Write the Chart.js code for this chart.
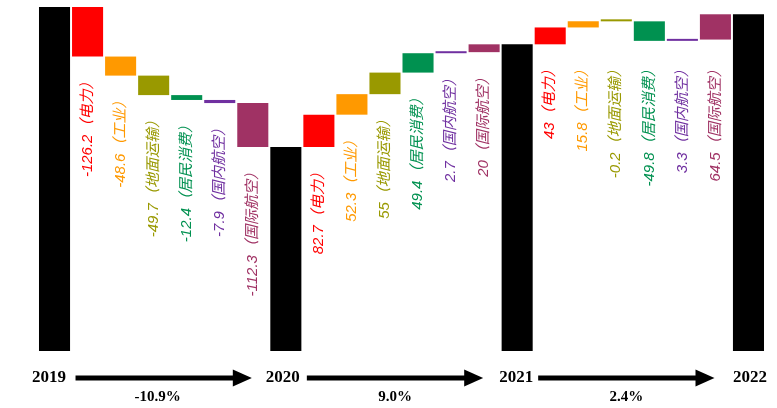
<!DOCTYPE html>
<html>
<head>
<meta charset="utf-8">
<script src="https://cdn.jsdelivr.net/npm/chart.js@4.4.0/dist/chart.umd.min.js"></script>
<style>
html, body { margin: 0; padding: 0; background: #fff; }
</style>
</head>
<body>
<canvas id="chart" width="777" height="408"></canvas>
<script>
// ---- data ----
const years = ['2019', '2020', '2021', '2022'];
const sectors = ['电力', '工业', '地面运输', '居民消费', '国内航空', '国际航空'];
const total2019 = 3269;
const changes1920 = [-126.2, -48.6, -49.7, -12.4, -7.9, -112.3];
const changes2021 = [82.7, 52.3, 55, 49.4, 2.7, 20];
const changes2122 = [43, 15.8, -0.2, -49.8, 3.3, 64.5];
const growthLabels = ['-10.9%', '9.0%', '2.4%'];
const sectorColors = ['#ff0000', '#ff9900', '#999900', '#009150', '#7030a0', '#a03264'];

// ---- build waterfall ----
const groups = [changes1920, changes2021, changes2122];
const labels = [];
const bars = [];
const colors = [];
const info = []; // per bar: null for totals, {group, text, color} for changes
const totalIdx = [];
let level = total2019;
const base = 2392;

years.forEach((y, k) => {
  labels.push(y);
  bars.push([base, level]);
  colors.push('#000000');
  info.push(null);
  totalIdx.push(bars.length - 1);
  if (k < groups.length) {
    groups[k].forEach((d, i) => {
      labels.push(y + '-' + sectors[i]);
      bars.push([level, level + d]);
      colors.push(sectorColors[i]);
      info.push({ group: k, text: String(d) + '（' + sectors[i] + '）', color: sectorColors[i] });
      level += d;
    });
  }
});

// ---- labels + arrows ----
const waterfallText = {
  id: 'waterfallText',
  afterDatasetsDraw(chart) {
    const ctx = chart.ctx;
    const meta = chart.getDatasetMeta(0);
    const gap = 18;

    // lowest bar bottom of each group (last group labels are lined up)
    const groupBottom = {};
    info.forEach((inf, i) => {
      if (!inf) return;
      const el = meta.data[i];
      const b = Math.max(el.y, el.base);
      groupBottom[inf.group] = Math.max(groupBottom[inf.group] || 0, b);
    });

    ctx.save();
    ctx.font = 'italic 15px "Liberation Sans", "Noto Sans CJK SC", sans-serif';
    ctx.textAlign = 'right';
    ctx.textBaseline = 'middle';
    info.forEach((inf, i) => {
      if (!inf) return;
      const el = meta.data[i];
      let y = Math.max(el.y, el.base) + gap;
      if (inf.group === 2) y = groupBottom[2] + gap;
      ctx.save();
      ctx.translate(el.x, y);
      ctx.rotate(-Math.PI / 2);
      ctx.fillStyle = inf.color;
      ctx.fillText(inf.text, 0, 0);
      ctx.restore();
    });
    ctx.restore();

    // years, arrows, growth
    const yy = 378;
    ctx.save();
    ctx.fillStyle = '#000';
    ctx.textAlign = 'center';
    ctx.textBaseline = 'middle';
    ctx.font = 'bold 17px "Liberation Serif", "Times New Roman", serif';
    totalIdx.forEach((idx, k) => {
      ctx.fillText(years[k], meta.data[idx].x - 5.5 + 2.3 * k, yy);
    });
    for (let k = 0; k < totalIdx.length - 1; k++) {
      const x0 = meta.data[totalIdx[k]].x + 21;
      const x1 = meta.data[totalIdx[k + 1]].x - 34;
      const head = 19;
      ctx.fillRect(x0, yy - 2.5, x1 - head - x0 + 1, 5);
      ctx.beginPath();
      ctx.moveTo(x1 - head, yy - 8.5);
      ctx.lineTo(x1, yy);
      ctx.lineTo(x1 - head, yy + 8.5);
      ctx.closePath();
      ctx.fill();
      ctx.font = 'bold 15px "Liberation Serif", "Times New Roman", serif';
      ctx.fillText(growthLabels[k], (x0 + x1) / 2 - (k === 0 ? 6 : 0), 397);
    }
    ctx.restore();
  }
};

new Chart(document.getElementById('chart').getContext('2d'), {
  type: 'bar',
  data: {
    labels: labels,
    datasets: [{
      data: bars,
      backgroundColor: colors,
      borderWidth: 0,
      barPercentage: 0.94,
      categoryPercentage: 1,
      minBarLength: 2
    }]
  },
  options: {
    responsive: false,
    animation: false,
    layout: { padding: { left: 38, right: 12, top: 0, bottom: 57 } },
    plugins: { legend: { display: false }, tooltip: { enabled: false } },
    scales: {
      x: { display: false },
      y: { display: false, min: base, max: 3287 }
    }
  },
  plugins: [waterfallText]
});
</script>
</body>
</html>
